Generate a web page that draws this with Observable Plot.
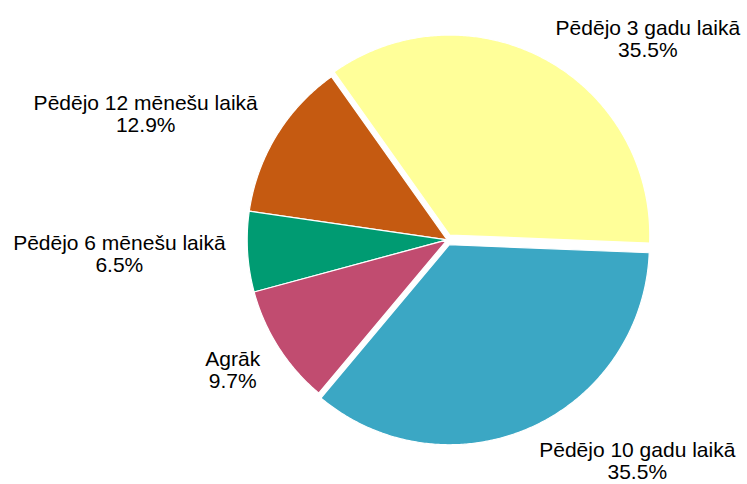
<!DOCTYPE html>
<html><head><meta charset="utf-8">
<script src="https://cdn.jsdelivr.net/npm/d3@7"></script>
<script src="https://cdn.jsdelivr.net/npm/@observablehq/plot@0.6"></script>
<style>html,body{margin:0;padding:0;background:#fff;} #chart svg{display:block;}</style>
</head><body><div id="chart"></div>
<script>
// ---- data ----
const categories = ["Pēdējo 3 gadu laikā", "Pēdējo 12 mēnešu laikā", "Pēdējo 6 mēnešu laikā", "Agrāk", "Pēdējo 10 gadu laikā"];
const shares = [35.5, 12.9, 6.5, 9.7, 35.5];

// ---- layout ----
const W = 747, H = 484, cx = 446.7, cy = 239.3, R = 200;
const startDeg = -2.3;                 // first wedge starts just below 3 o'clock, counter-clockwise
const explode = new Map([["Pēdējo 3 gadu laikā", 0.027], ["Pēdējo 10 gadu laikā", 0.027]]);
const fontSize = 21, lineHeight = 1.04, fontFamily = "'Liberation Sans', Arial, sans-serif";
const labelRX = 1.11, labelRY = 1.21, labelPadTop = 17, labelPadBottom = 1.5;

const total = d3.sum(shares);
let acc = 0;
const slices = categories.map((name, i) => {
  const a0 = startDeg * Math.PI / 180 + acc / total * 2 * Math.PI;
  acc += shares[i];
  const a1 = startDeg * Math.PI / 180 + acc / total * 2 * Math.PI;
  const am = (a0 + a1) / 2;
  const e = explode.get(name) || 0;
  return {name, value: shares[i], a0, a1, am, ox: e * Math.cos(am), oy: e * Math.sin(am)};
});

// wedge outlines in radius units (r = 1), y up
const pts = [];
for (const s of slices) {
  pts.push({name: s.name, x: s.ox, y: s.oy});
  const n = Math.ceil((s.a1 - s.a0) / (Math.PI / 360));
  for (let k = 0; k <= n; k++) {
    const a = s.a0 + (s.a1 - s.a0) * k / n;
    pts.push({name: s.name, x: s.ox + Math.cos(a), y: s.oy + Math.sin(a)});
  }
}

// labels: name + percentage, lines centred, block placed outside the wedge
const ctx = document.createElement("canvas").getContext("2d");
ctx.font = `${fontSize}px ${fontFamily}`;
const labels = slices.map(s => {
  const text = `${s.name}\n${s.value.toFixed(1)}%`;
  const wmax = d3.max(text.split("\n"), t => ctx.measureText(t).width);
  const ux = Math.cos(s.am), uy = Math.sin(s.am);
  const px = cx + R * (s.ox + labelRX * ux);
  let py = cy - R * (s.oy + labelRY * uy);
  const half = 2 * lineHeight * fontSize / 2;
  py = Math.max(py, labelPadTop + half);
  py = Math.min(py, H - labelPadBottom - half);
  const X = ux > 0 ? px + wmax / 2 : px - wmax / 2;
  return {text, x: (X - cx) / R, y: (cy - py) / R};
});

const chart = Plot.plot({
  width: W, height: H, margin: 0,
  x: {domain: [-cx / R, (W - cx) / R], axis: null},
  y: {domain: [-(H - cy) / R, cy / R], axis: null},
  color: {domain: categories, range: ["#FFFF99", "#C55A11", "#009B72", "#C14C70", "#3BA7C4"]},
  style: {fontFamily, background: "white"},
  marks: [
    Plot.line(pts, {x: "x", y: "y", z: "name", fill: "name", stroke: "white", strokeWidth: 1.2, curve: "linear-closed"}),
    Plot.text(labels, {x: "x", y: "y", text: "text", fontSize, lineHeight, textAnchor: "middle", lineAnchor: "middle", fill: "black"})
  ]
});
document.getElementById("chart").appendChild(chart);
</script>
</body></html>
